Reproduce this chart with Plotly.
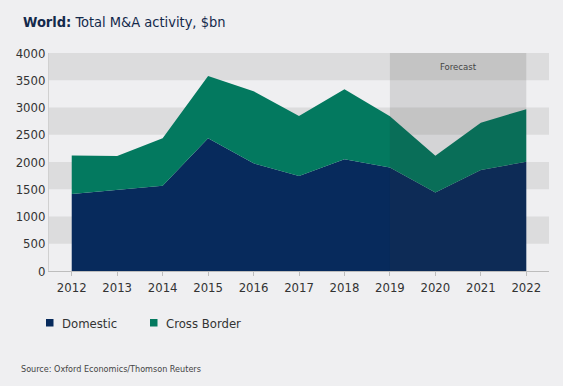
import plotly.graph_objects as go

years = [2012, 2013, 2014, 2015, 2016, 2017, 2018, 2019, 2020, 2021, 2022]
domestic = [1415, 1490, 1565, 2435, 1975, 1745, 2050, 1900, 1440, 1855, 2005]
cross_border = [705, 620, 870, 1145, 1325, 1100, 1285, 940, 675, 865, 965]
y_ticks = [0, 500, 1000, 1500, 2000, 2500, 3000, 3500, 4000]
series_names = ["Domestic", "Cross Border"]
forecast_start, forecast_end = 2019, 2022

NAVY = "#072a5c"
GREEN = "#03795f"
BG = "#efeff1"
BAND = "#dcdcdd"
FONT = "Noto Sans Condensed, Liberation Sans Narrow, DejaVu Sans Condensed, Roboto, sans-serif"

W, H = 563, 386
ML, MR, MT, MB = 49, 14, 53, 115
PW, PH = W - ML - MR, H - MT - MB


def px_x(p):
    return (p - ML) / PW


def px_y(p):
    return (H - MB - p) / PH


fig = go.Figure()
fig.add_trace(go.Scatter(x=years, y=domestic, name=series_names[0], stackgroup="one",
                         mode="lines", line=dict(width=0, color=NAVY), fillcolor=NAVY,
                         showlegend=False))
fig.add_trace(go.Scatter(x=years, y=cross_border, name=series_names[1], stackgroup="one",
                         mode="lines", line=dict(width=0, color=GREEN), fillcolor=GREEN,
                         showlegend=False))

shapes = []
for i in range(1, len(y_ticks) - 1, 2):
    shapes.append(dict(type="rect", xref="paper", yref="y", x0=0, x1=1,
                       y0=y_ticks[i], y1=y_ticks[i + 1], fillcolor=BAND,
                       line=dict(width=0), layer="below"))
shapes.append(dict(type="rect", xref="x", yref="y", x0=forecast_start, x1=forecast_end,
                   y0=0, y1=4000, fillcolor="rgba(50,50,50,0.14)",
                   line=dict(width=0), layer="above"))

annotations = [
    dict(text="<b>World:</b> Total M&A activity, $bn", xref="paper", yref="paper",
         x=px_x(21), y=px_y(22), xanchor="left", yanchor="middle", showarrow=False,
         font=dict(size=14.5, color="#13294b")),
    dict(text="Forecast", xref="x", yref="y", x=2020.5, y=3760, showarrow=False,
         font=dict(size=9.5, color="#444444")),
    dict(text="Source: Oxford Economics/Thomson Reuters", xref="paper", yref="paper",
         x=px_x(19), y=px_y(369), xanchor="left", yanchor="middle", showarrow=False,
         font=dict(size=9, color="#444444")),
]

legend_items = [(series_names[0], NAVY, 46), (series_names[1], GREEN, 150)]
for nm, c, x0 in legend_items:
    shapes.append(dict(type="rect", xref="paper", yref="paper",
                       x0=px_x(x0), x1=px_x(x0 + 7.5), y0=px_y(326.5), y1=px_y(319),
                       fillcolor=c, line=dict(width=0)))
    annotations.append(dict(text=nm, xref="paper", yref="paper", x=px_x(x0 + 14),
                            y=px_y(323), xanchor="left", yanchor="middle", showarrow=False,
                            font=dict(size=13, color="#333333")))

fig.update_layout(
    width=W, height=H,
    margin=dict(l=ML, r=MR, t=MT, b=MB),
    paper_bgcolor=BG, plot_bgcolor=BG,
    font=dict(family=FONT, color="#333333", size=13),
    shapes=shapes,
    annotations=annotations,
    showlegend=False,
    xaxis=dict(range=[2011.5, 2022.5], tickvals=years, showgrid=False,
               showline=True, linecolor="#bdbdbd", linewidth=1,
               ticks="outside", ticklen=4, tickcolor="#bdbdbd",
               tickfont=dict(size=13, color="#333333"), zeroline=False),
    yaxis=dict(range=[0, 4000], tickvals=y_ticks, showgrid=False,
               showline=True, linecolor="#d0d0d0", linewidth=1,
               ticks="", tickfont=dict(size=13, color="#333333"), zeroline=False),
)

fig.write_html("out.html", config={"displayModeBar": False},
               post_script="document.body.style.margin='0';")
